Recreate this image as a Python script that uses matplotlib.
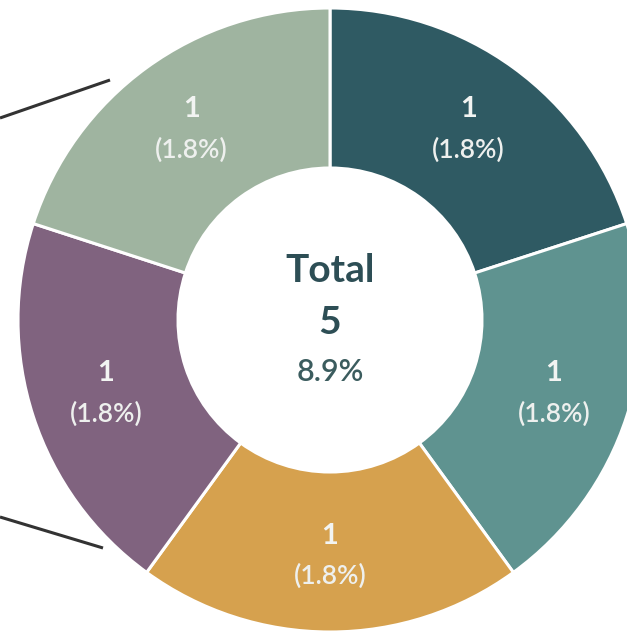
import numpy as np
import matplotlib
matplotlib.use("Agg")
import matplotlib.pyplot as plt

# ---- Data ----
counts = [1, 1, 1, 1, 1]
shares = [1.8, 1.8, 1.8, 1.8, 1.8]
colors = ["#2f5a63", "#5f9390", "#d6a14e", "#80637f", "#9fb4a0"]
total = 5
total_share = 8.9

plt.rcParams["font.family"] = ["Lato", "DejaVu Sans"]

W, H = 627, 634
fig = plt.figure(figsize=(W / 100, H / 100), dpi=100)
ax = fig.add_axes([0, 0, 1, 1])

# ---- Donut ----
cx, cy, R, r_in = 330, 314, 312, 152
wedges, _ = ax.pie(counts, colors=colors, startangle=90, counterclock=False,
                   radius=R, center=(cx, cy),
                   wedgeprops=dict(width=R - r_in, edgecolor="white", linewidth=2.2))

# slice labels
lab_r = 0.755 * R
for w, n, p in zip(wedges, counts, shares):
    ang = np.deg2rad((w.theta1 + w.theta2) / 2)
    x = cx + lab_r * np.cos(ang)
    y = cy + lab_r * np.sin(ang)
    ax.text(x, y + 20, str(n), ha="center", va="center", color="#f2f4f2",
            fontsize=21, fontweight="bold")
    ax.text(x, y - 21, f"({p}%)", ha="center", va="center", color="#eef0ee",
            fontsize=19, fontweight="semibold")

# centre text
ax.text(cx, H - 271, "Total", ha="center", va="center", color="#2d4e55",
        fontsize=28, fontweight="bold")
ax.text(cx, H - 322, str(total), ha="center", va="center", color="#2d4e55",
        fontsize=28, fontweight="bold")
ax.text(cx, H - 372, f"{total_share}%", ha="center", va="center", color="#3b5c5e",
        fontsize=22, fontweight="semibold")

# connector lines to the parent pie (off to the left)
ax.plot([0, 110], [H - 118, H - 80], color="#333333", lw=2.2, solid_capstyle="butt")
ax.plot([0, 103], [H - 517, H - 548], color="#333333", lw=2.2, solid_capstyle="butt")

ax.set_xlim(0, W)
ax.set_ylim(0, H)
ax.set_aspect("equal")
ax.axis("off")

fig.savefig("out.png", dpi=100)
